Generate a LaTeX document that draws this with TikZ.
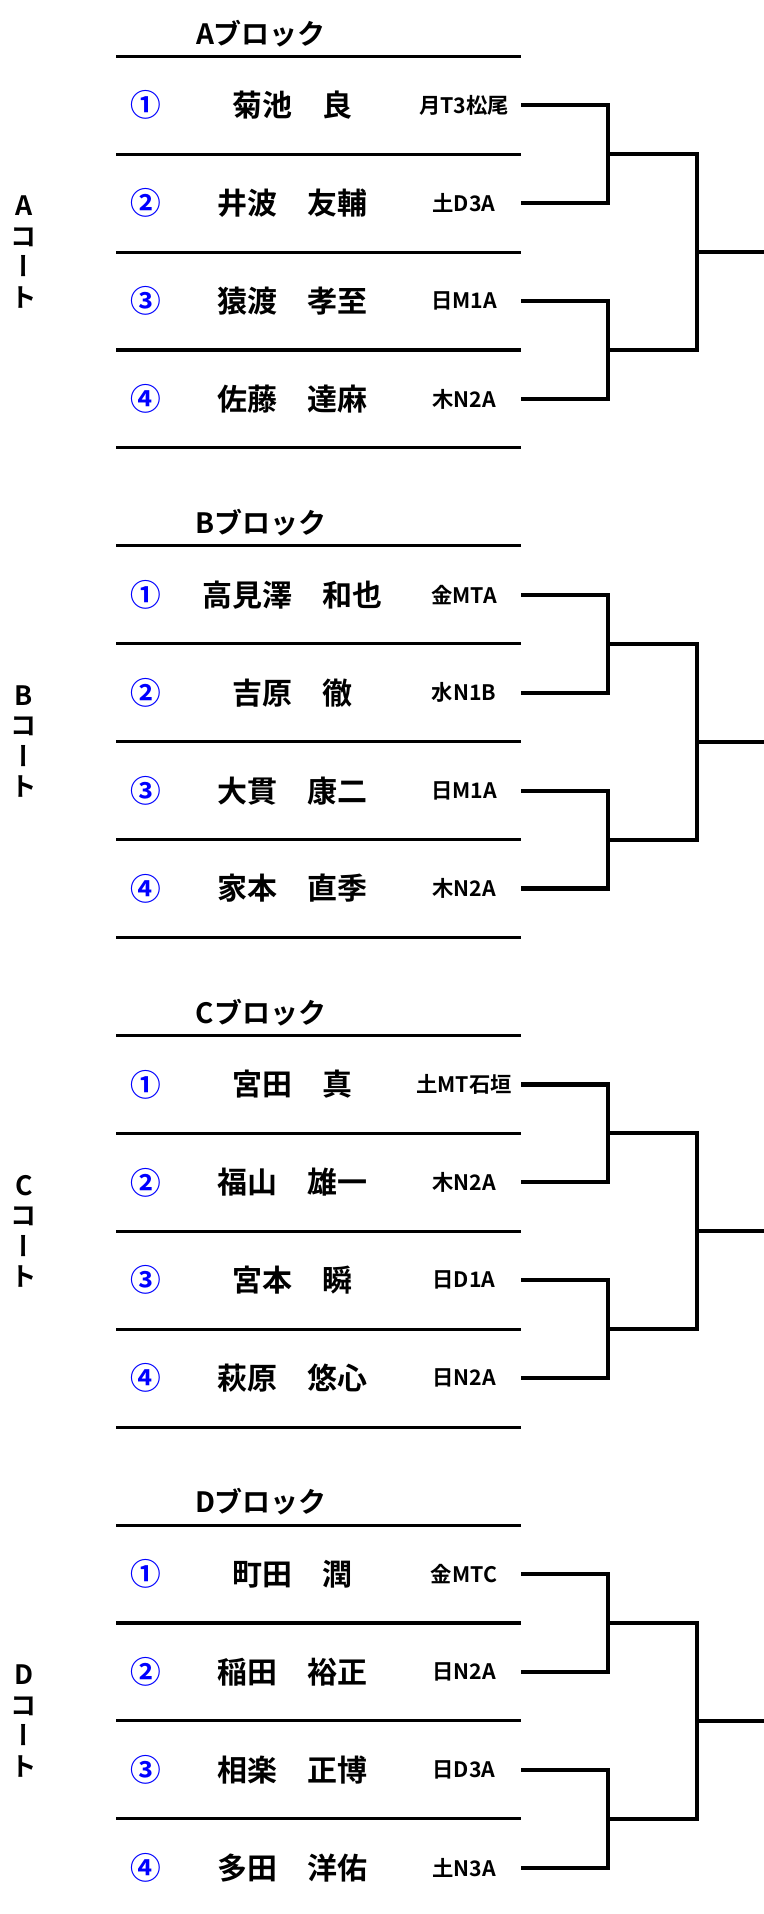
\documentclass[tikz,border=0pt]{standalone}
\usepackage{fontspec}
\newfontfamily\jp{Noto Sans CJK JP}[BoldFont={Noto Sans CJK JP Bold}]
\newfontfamily\jpv{Noto Sans CJK JP Bold}[RawFeature=+vert]
\tikzset{
  rowline/.style={line width=2.3pt},
  brk/.style={line width=3.1pt, line join=miter},
  num/.style={font=\jp\bfseries\fontsize{23}{23}\selectfont, text=blue, inner sep=0pt},
  pname/.style={font=\jp\bfseries\fontsize{22.5}{22.5}\selectfont, inner sep=0pt},
  code/.style={font=\jp\bfseries\fontsize{16}{16}\selectfont, inner sep=0pt},
  btitle/.style={font=\jp\bfseries\fontsize{21}{21}\selectfont, inner sep=0pt},
  court/.style={font=\jpv\fontsize{20}{22.9}\selectfont, align=center, inner sep=0pt},
}
\def\rh{97.9}
% block: #1 letter, #2 top y
\newcommand\tblock[2]{%
  \node[btitle] (#1-t) at (261,{#2-23}) {#1ブロック};
  \node[court] (#1-court) at (24,{#2+2*\rh}) {#1\\コ\\ー\\ト};
  \foreach \k in {0,...,4}{\draw[rowline] (116,{#2+\k*\rh}) -- (521,{#2+\k*\rh});}
  \coordinate (#1-j1) at (608,{#2+\rh});
  \coordinate (#1-j2) at (608,{#2+3*\rh});
  \coordinate (#1-k) at (697,{#2+2*\rh});
  \coordinate (#1-f) at (770,{#2+2*\rh});
}
% row: #1 letter, #2 top y, #3 index, #4 circled number, #5 name, #6 code
\newcommand\trow[6]{%
  \node[num] (#1-n#3) at (146,{#2+(#3-0.5)*\rh}) {#4};
  \node[pname] (#1-p#3) at (292,{#2+(#3-0.5)*\rh}) {#5};
  \node[code] (#1-c#3) at (464,{#2+(#3-0.5)*\rh}) {#6};
  \coordinate (#1-s#3) at (521,{#2+(#3-0.5)*\rh});
}
\newcommand\tbracket[1]{%
  \draw[brk] (#1-s1) -| (#1-j1) |- (#1-s2);
  \draw[brk] (#1-s3) -| (#1-j2) |- (#1-s4);
  \draw[brk] (#1-j1) -| (#1-k) |- (#1-j2);
  \draw[brk] (#1-k) -- (#1-f);
}
\begin{document}
\begin{tikzpicture}[x=0.75pt,y=-0.75pt]
\useasboundingbox (0,0) rectangle (764,1914);
% A
\tblock{A}{56.3}
\trow{A}{56.3}{1}{①}{菊池　良}{月T3松尾}
\trow{A}{56.3}{2}{②}{井波　友輔}{土D3A}
\trow{A}{56.3}{3}{③}{猿渡　孝至}{日M1A}
\trow{A}{56.3}{4}{④}{佐藤　達麻}{木N2A}
\tbracket{A}
% B
\tblock{B}{545.9}
\trow{B}{545.9}{1}{①}{高見澤　和也}{金MTA}
\trow{B}{545.9}{2}{②}{吉原　徹}{水N1B}
\trow{B}{545.9}{3}{③}{大貫　康二}{日M1A}
\trow{B}{545.9}{4}{④}{家本　直季}{木N2A}
\tbracket{B}
% C
\tblock{C}{1035.5}
\trow{C}{1035.5}{1}{①}{宮田　真}{土MT石垣}
\trow{C}{1035.5}{2}{②}{福山　雄一}{木N2A}
\trow{C}{1035.5}{3}{③}{宮本　瞬}{日D1A}
\trow{C}{1035.5}{4}{④}{萩原　悠心}{日N2A}
\tbracket{C}
% D
\tblock{D}{1525.1}
\trow{D}{1525.1}{1}{①}{町田　潤}{金MTC}
\trow{D}{1525.1}{2}{②}{稲田　裕正}{日N2A}
\trow{D}{1525.1}{3}{③}{相楽　正博}{日D3A}
\trow{D}{1525.1}{4}{④}{多田　洋佑}{土N3A}
\tbracket{D}
\end{tikzpicture}
\end{document}
